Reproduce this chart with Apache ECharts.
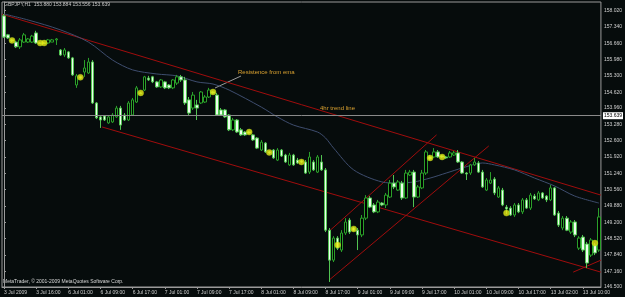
<!DOCTYPE html>
<html><head><meta charset="utf-8">
<style>html,body{margin:0;padding:0;background:#060c0c}#c{width:625px;height:297px}</style>
<script src="https://cdn.jsdelivr.net/npm/echarts@6/dist/echarts.min.js"></script>
</head><body><div id="c"></div>
<script>
// ---- data ----
const sessions = [['3 Jul',8,22],['6 Jul',0,23],['7 Jul',0,23],['8 Jul',0,23],['9 Jul',0,23],['10 Jul',0,22],['13 Jul',0,14]];
const categories = [];
sessions.forEach(s => { for (let h = s[1]; h <= s[2]; h++) categories.push(s[0] + ' ' + String(h).padStart(2,'0') + ':00'); });

const xTickLabels = ['3 Jul 2009','3 Jul 16:00','6 Jul 01:00','6 Jul 09:00','6 Jul 17:00','7 Jul 01:00','7 Jul 09:00','7 Jul 17:00','8 Jul 01:00','8 Jul 09:00','8 Jul 17:00','9 Jul 01:00','9 Jul 09:00','9 Jul 17:00','10 Jul 01:00','10 Jul 09:00','10 Jul 17:00','13 Jul 02:00','13 Jul 10:00'];
const yTickLabels = [158.02,157.34,156.66,155.98,155.30,154.62,153.96,153.28,152.60,151.92,151.24,150.56,149.88,149.20,148.52,147.84,147.16,146.50];

const open = [157.80,157.01,156.80,156.71,156.51,156.71,156.71,156.71,157.09,156.67,
156.67,156.67,156.71,156.80,156.38,156.17,156.30,156.05,154.92,155.26,
155.46,155.42,155.88,154.17,153.59,153.63,153.34,153.38,153.59,153.96,
153.67,153.46,153.67,154.21,154.59,154.71,155.21,155.26,155.05,154.84,
155.05,154.92,154.80,155.00,155.26,155.13,154.30,153.96,154.09,154.17,
154.21,154.42,154.63,154.50,153.88,153.88,153.67,153.05,153.46,153.05,
152.96,152.96,152.84,152.71,152.21,152.50,152.13,152.21,151.79,152.21,
152.00,151.59,152.00,151.79,151.75,151.71,151.29,151.71,151.29,151.71,
151.38,148.87,147.62,148.54,148.04,148.75,149.29,148.96,148.87,148.67,
149.37,150.21,149.92,149.63,150.00,149.92,150.25,150.83,150.54,150.83,
150.21,151.17,151.29,150.25,150.63,151.25,151.92,151.92,152.13,151.96,
151.92,151.92,152.00,152.09,151.71,151.25,151.25,151.59,151.67,151.29,
150.54,150.83,151.00,150.25,150.54,149.83,149.79,149.50,149.92,149.63,
150.13,149.79,150.29,150.13,150.42,150.29,150.13,150.63,149.58,148.96,
149.37,148.79,149.21,148.12,148.58,148.29,147.83,148.25,148.04];
const close = [156.92,156.88,156.76,156.51,156.80,157.01,156.84,156.96,156.67,156.65,
156.66,156.80,156.80,156.84,156.17,156.38,156.05,155.34,155.30,155.21,
155.63,155.88,154.17,153.55,153.46,153.46,153.59,153.67,153.96,153.25,
153.46,154.17,154.30,154.80,154.57,155.26,155.13,155.05,154.84,155.13,
154.80,154.80,155.13,155.26,155.13,154.17,153.75,154.50,153.96,154.63,
154.42,154.71,154.59,153.67,153.67,153.59,153.05,153.46,152.96,152.84,
152.84,152.92,152.63,152.29,152.54,152.13,152.09,151.88,152.21,151.96,
151.71,152.00,151.59,151.67,151.71,151.25,151.92,151.38,151.92,151.38,
148.87,147.62,148.54,148.12,148.75,149.21,148.79,148.87,148.67,149.37,
150.21,149.83,149.63,150.04,149.92,150.33,150.83,150.67,150.88,150.21,
151.25,151.29,150.25,150.67,151.25,152.13,151.84,152.13,151.92,151.92,
151.88,152.09,152.09,151.71,151.25,151.21,151.59,151.71,151.29,150.67,
150.96,150.96,150.42,150.63,149.92,149.75,149.50,149.92,149.63,150.13,
149.79,150.33,150.17,150.42,150.21,150.13,150.63,149.50,149.08,149.37,
148.87,149.21,148.67,148.54,148.04,147.50,148.46,147.92,149.42];
const low = [156.88,156.84,156.71,156.46,156.42,156.67,156.67,156.67,156.63,156.63,
156.63,156.63,156.71,156.59,156.13,156.09,156.01,155.30,154.80,155.17,
155.26,155.38,154.13,153.50,153.13,153.42,153.30,153.34,153.55,153.05,
153.42,153.42,153.63,154.17,154.55,154.67,155.09,155.00,154.80,154.80,
154.75,154.75,154.75,154.92,155.05,154.09,153.67,153.88,153.46,154.13,
154.17,154.38,154.55,153.63,153.63,153.55,153.00,153.00,152.92,152.80,
152.80,152.88,152.59,152.25,152.17,152.09,152.05,151.84,151.75,151.92,
151.67,151.55,151.55,151.63,151.67,151.21,151.21,151.34,151.25,151.34,
148.79,146.71,147.54,148.04,147.96,148.67,148.71,148.83,148.04,148.58,
149.29,149.79,149.58,149.58,149.87,149.79,150.21,150.58,150.50,150.13,
150.17,151.13,149.83,150.21,150.58,151.17,151.79,151.88,151.88,151.88,
151.84,151.88,151.96,151.67,151.21,150.96,151.17,151.55,151.25,150.63,
150.50,150.79,150.33,150.21,149.87,149.54,149.46,149.42,149.58,149.54,
149.75,149.71,150.13,150.08,150.17,150.04,150.08,149.46,149.00,148.87,
148.83,148.71,148.58,148.04,147.96,147.29,147.75,147.83,147.96];
const high = [157.88,157.05,156.84,156.76,156.88,157.09,156.88,157.01,157.18,156.71,
156.71,156.84,156.84,156.88,156.42,156.46,156.34,156.09,155.38,155.30,
155.96,156.05,155.96,154.21,153.67,153.67,153.63,153.75,154.05,154.05,
153.75,154.25,154.38,154.88,154.63,155.30,155.30,155.30,155.09,155.17,
155.09,154.96,155.17,155.34,155.34,155.26,154.42,154.63,154.30,154.67,
154.50,154.80,154.67,154.59,153.96,153.92,153.71,153.55,153.50,153.13,
153.00,153.00,152.88,152.75,152.63,152.54,152.17,152.25,152.29,152.25,
152.05,152.09,152.05,151.88,151.79,151.79,152.13,151.79,152.00,152.00,
151.46,148.96,148.62,148.62,148.87,149.37,149.37,149.00,148.96,149.50,
150.33,150.29,150.00,150.13,150.04,150.42,150.96,151.17,150.96,150.92,
151.38,151.38,151.38,150.75,151.38,152.21,152.00,152.29,152.21,152.00,
151.96,152.17,152.17,152.21,151.75,151.29,151.63,151.88,151.75,151.38,
151.04,151.29,151.08,150.71,150.63,149.92,149.87,150.00,150.00,150.21,
150.21,150.42,150.38,150.50,150.46,150.33,150.75,150.67,149.67,149.46,
149.46,149.29,149.29,148.62,148.67,148.38,148.54,148.33,149.79];

const dotIdx = [2,9,10,19,34,52,61,66,74,83,87,106,109,125,147];
const dotPrice = [156.78,156.67,156.67,155.24,154.59,154.63,152.96,152.11,151.71,148.25,148.92,151.88,151.92,149.58,148.33];

const emaIdx = [0,6,14,21,27,32,38,43,48,52,56,64,68,72,78,80,82,87,94,98,102,106,110,114,119,122,127,132,137,142,148];
const emaVal = [157.88,157.63,157.22,156.71,155.96,155.55,155.38,155.30,155.05,154.96,154.71,154.00,153.59,153.25,152.96,152.71,152.29,151.38,150.88,150.83,150.88,151.04,151.25,151.46,151.67,151.59,151.38,151.04,150.71,150.29,150.00];

const trendUpper = [[-0.5,157.87],[148.5,150.33]];
const trendLower = [[24.4,153.17],[148.5,147.12]];
const channelA = [[81.2,148.87],[107.6,152.84]];
const channelB = [[80.9,146.79],[120.6,152.38]];
const shortLine = [[141.6,147.12],[148.5,147.62]];
const currentPrice = 153.639;

// ---- build ----
const candles = open.map((o,i) => [o, close[i], low[i], high[i]]);
const dots = dotIdx.map((d,i) => [d, dotPrice[i]]);
const ema = emaIdx.map((d,i) => [d, emaVal[i]]);
const FONT = 'Liberation Sans';
const red = '#a00c0c';
function lineSeries(data, color){
  return {type:'line', xAxisIndex:1, yAxisIndex:0, data:data, symbol:'none', silent:true,
    lineStyle:{color:color, width:1}, z:3};
}

const chart = echarts.init(document.getElementById('c'), null, {renderer:'canvas'});
chart.setOption({
  backgroundColor:'#060c0c',
  animation:false,
  grid:{left:2, right:19, top:2, bottom:10, show:true, borderColor:'#9a9a9a', borderWidth:1},
  xAxis:[
    {type:'category', data:categories, boundaryGap:true,
     axisLine:{lineStyle:{color:'#9a9a9a'}},
     axisTick:{show:true, interval:7, alignWithLabel:true, length:2, lineStyle:{color:'#9a9a9a'}},
     axisLabel:{interval:7, align:'left', fontSize:5, fontFamily:FONT, color:'#cfcfcf', margin:3,
       formatter:(v,i)=> (xTickLabels[i/8] || '')},
     splitLine:{show:false}},
    {type:'value', min:-0.5, max:148.5, show:false}
  ],
  yAxis:{type:'value', position:'right', min:146.5, max:158.38,
    axisLine:{show:true, lineStyle:{color:'#9a9a9a'}},
    axisTick:{show:true, customValues:yTickLabels, length:2, lineStyle:{color:'#9a9a9a'}},
    axisLabel:{customValues:yTickLabels, formatter:v=>v.toFixed(3), fontSize:5, fontFamily:FONT, color:'#cfcfcf', margin:3},
    splitLine:{show:false}},
  series:[
    lineSeries(trendUpper, red),
    lineSeries(trendLower, red),
    lineSeries(channelA, red),
    lineSeries(channelB, red),
    lineSeries(shortLine, red),
    Object.assign(lineSeries(ema, '#3e4d6e'), {smooth:0.3}),
    {type:'candlestick', xAxisIndex:0, yAxisIndex:0, data:candles, barWidth:3, z:4,
     itemStyle:{color:'#000000', color0:'#eefdee', borderColor:'#2aa02a', borderColor0:'#52c452', borderWidth:1},
     markLine:{symbol:'none', silent:true, data:[{yAxis:currentPrice}],
       lineStyle:{color:'#8a8a8a', type:'solid', width:1},
       label:{position:'end', formatter:'153.639', backgroundColor:'#ffffff', color:'#000000', fontSize:5, fontFamily:FONT, padding:[1,1], distance:2}}},
    {type:'scatter', xAxisIndex:0, yAxisIndex:0, data:dots, symbolSize:6, z:5,
     itemStyle:{color:'#ecec14', borderColor:'#a8d020', borderWidth:0.5}}
  ],
  graphic:[
    {type:'text', left:4, top:2, style:{text:'GBPJPY,H1  153.880 153.884 153.556 153.639', fill:'#c8c8c8', font:'5px "Liberation Sans"'}},
    {type:'text', left:3, top:279, style:{text:'MetaTrader, © 2001-2009 MetaQuotes Software Corp.', fill:'#d8d8d8', font:'5px "Liberation Sans"'}},
    {type:'line', shape:{x1:215, y1:88, x2:241, y2:76}, style:{stroke:'#9a9a9a', lineWidth:1}},
    {type:'text', left:238, top:69, style:{text:'Resistence from ema', fill:'#d8a030', font:'6px "Liberation Sans"'}},
    {type:'text', left:320, top:105, style:{text:'4hr trend line', fill:'#d8a030', font:'6px "Liberation Sans"'}}
  ]
});
</script></body></html>
